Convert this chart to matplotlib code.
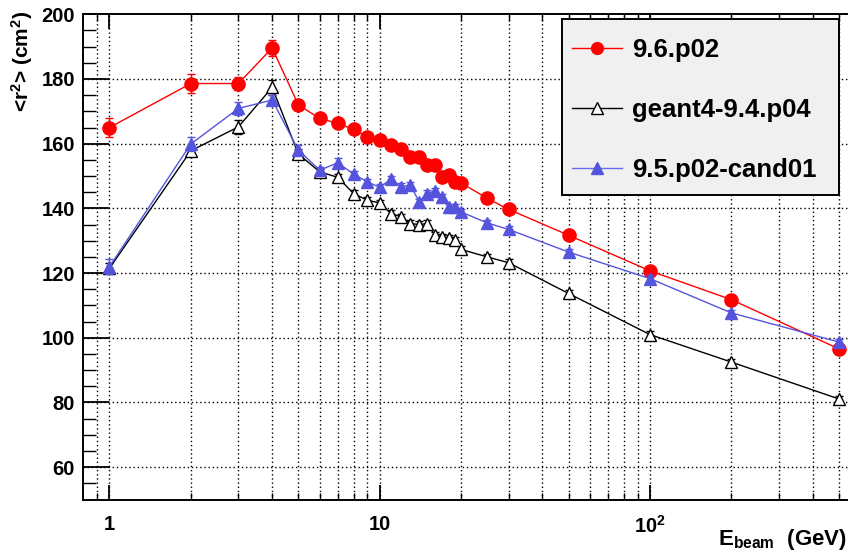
import matplotlib
matplotlib.use("Agg")
import matplotlib.pyplot as plt
import numpy as np
from matplotlib.ticker import FixedLocator, FixedFormatter, NullFormatter
from matplotlib.lines import Line2D
from matplotlib.patches import Rectangle

plt.rcParams['font.family'] = ['Liberation Sans', 'DejaVu Sans']
plt.rcParams['font.weight'] = 'bold'
plt.rcParams['mathtext.fontset'] = 'custom'
plt.rcParams['mathtext.rm'] = 'Liberation Sans:bold'
plt.rcParams['mathtext.bf'] = 'Liberation Sans:bold'
plt.rcParams['mathtext.it'] = 'Liberation Sans:bold'
plt.rcParams['mathtext.default'] = 'bf'

energy = [1, 2, 3, 4, 5, 6, 7, 8, 9, 10, 11, 12, 13, 14, 15, 16, 17, 18, 19, 20,
          25, 30, 50, 100, 200, 500]

r2_96p02 = [165.0, 178.6, 178.6, 189.6, 172.0, 167.8, 166.3, 164.4, 162.0, 161.1,
            159.6, 158.5, 155.8, 155.8, 153.4, 153.4, 149.8, 150.3, 148.2, 147.9,
            143.1, 139.7, 131.7, 120.7, 111.8, 96.6]
err_96p02 = [3.0, 2.8, 2.1, 2.4, 1.5, 1.2, 1.0, 1.0, 1.0, 1.0,
             1.0, 1.0, 1.0, 1.0, 1.0, 1.0, 1.0, 1.0, 1.0, 1.0,
             1.0, 1.0, 1.0, 1.0, 1.0, 1.0]

r2_g494p04 = [121.5, 157.8, 165.2, 177.4, 156.8, 151.3, 149.6, 144.6, 142.5, 141.7,
              138.4, 137.4, 135.3, 135.0, 135.3, 131.7, 131.2, 130.7, 130.2, 127.3,
              125.0, 123.2, 113.7, 101.0, 92.5, 81.1]
err_g494p04 = [1.5, 1.5, 2.2, 2.3, 1.5, 1.0, 1.0, 1.0, 1.0, 1.0,
               1.0, 1.0, 1.0, 1.0, 1.0, 1.0, 1.0, 1.0, 1.0, 1.0,
               1.0, 1.0, 1.0, 1.0, 1.0, 1.0]

r2_95p02c = [122.0, 159.9, 170.9, 173.5, 158.0, 151.8, 154.1, 150.6, 148.2, 146.5,
             149.0, 146.7, 147.2, 142.0, 144.6, 145.4, 143.6, 140.5, 140.5, 138.9,
             135.5, 133.5, 126.5, 118.3, 107.7, 98.7]
err_95p02c = [2.3, 2.3, 2.0, 1.5, 1.5, 1.0, 1.5, 1.0, 1.0, 1.0,
              1.0, 1.0, 1.0, 1.0, 1.0, 1.0, 1.0, 1.0, 1.0, 1.0,
              1.0, 1.0, 1.0, 1.0, 1.0, 1.0]

labels = ['9.6.p02', 'geant4-9.4.p04', '9.5.p02-cand01']

fig = plt.figure(figsize=(8.48, 5.53), dpi=100)
W, H = 848, 553
ax = fig.add_axes([83.3 / W, (H - 499.5) / H, 1 - 83.3 / W, (499.5 - 14.3) / H])

blue = '#5454dc'
ax.errorbar(energy, r2_96p02, yerr=err_96p02, color='red', marker='o', markersize=9.5,
            linewidth=1.0, elinewidth=1.0, capsize=3, zorder=5)
ax.errorbar(energy, r2_g494p04, yerr=err_g494p04, color='black', marker='^', markersize=9,
            markerfacecolor='white', markeredgecolor='black', markeredgewidth=1.0,
            linewidth=1.0, elinewidth=1.0, capsize=3, zorder=4)
ax.errorbar(energy, r2_95p02c, yerr=err_95p02c, color=blue, marker='^', markersize=8.5,
            linewidth=1.0, elinewidth=1.0, capsize=3, zorder=6)

ax.set_xscale('log')
ax.set_xlim(0.8, 541)
ax.set_ylim(50, 200)

major_x = [1, 10, 100]
minor_x = [0.9] + [v * d for d in (1, 10, 100) for v in range(2, 10) if v * d <= 500]
ax.xaxis.set_major_locator(FixedLocator(major_x))
ax.xaxis.set_major_formatter(FixedFormatter(['1', '10', r'10$^{2}$']))
ax.xaxis.set_minor_locator(FixedLocator(minor_x))
ax.xaxis.set_minor_formatter(NullFormatter())

ax.yaxis.set_major_locator(FixedLocator(np.arange(60, 201, 20)))
ax.yaxis.set_minor_locator(FixedLocator(np.arange(55, 200, 5)))

for v in major_x + minor_x:
    ax.axvline(v, color='black', linestyle=(0, (1, 2)), linewidth=1.0, zorder=1)
for v in np.arange(60, 200, 20):
    ax.axhline(v, color='black', linestyle=(0, (1, 2)), linewidth=1.0, zorder=1)

ax.tick_params(axis='x', which='major', direction='in', length=11, width=1.3,
               top=True, labelsize=14.5, pad=11)
ax.tick_params(axis='x', which='minor', direction='in', length=5, width=1.0, top=True)
ax.tick_params(axis='y', which='major', direction='in', length=19, width=1.3,
               right=False, labelsize=14.5, pad=6)
ax.tick_params(axis='y', which='minor', direction='in', length=9, width=1.0, right=False)
for lab in ax.get_xticklabels() + ax.get_yticklabels():
    lab.set_fontweight('bold')

ax.spines['right'].set_visible(False)
for s in ('left', 'bottom', 'top'):
    ax.spines[s].set_linewidth(1.4)

# legend frame
frame = Rectangle((562 / W, 1 - 195 / H), 277 / W, 176 / H, transform=fig.transFigure,
                  facecolor='#f0f0f0', edgecolor='black', linewidth=1.4, zorder=10)
fig.patches.append(frame)

handles = [
    Line2D([], [], color='red', marker='o', markersize=8.5, linewidth=1.0),
    Line2D([], [], color='black', marker='^', markersize=8.5, markerfacecolor='white',
           markeredgecolor='black', linewidth=1.0),
    Line2D([], [], color='#6a6ae8', marker='^', markersize=8, markerfacecolor=blue,
           markeredgecolor=blue, linewidth=1.0),
]
leg = fig.legend(handles, labels, loc='upper left', bbox_to_anchor=(572 / W, 1 - 38 / H),
                 bbox_transform=fig.transFigure, prop={'weight': 'bold', 'size': 18.5},
                 frameon=False, handlelength=1.95, handletextpad=0.4, labelspacing=1.4,
                 borderpad=0, borderaxespad=0)
leg.set_zorder(11)

fig.text(22 / W, 1 - 11 / H, r'<r$^{2}$> (cm$^{2}$)', rotation=90, ha='center', va='top',
         fontsize=15, fontweight='bold')
fig.text(847 / W, 1 - 545 / H, r'E$_{\mathbf{beam}}$  (GeV)', ha='right', va='baseline',
         fontsize=16, fontweight='bold')

fig.savefig('out.png', dpi=100)
